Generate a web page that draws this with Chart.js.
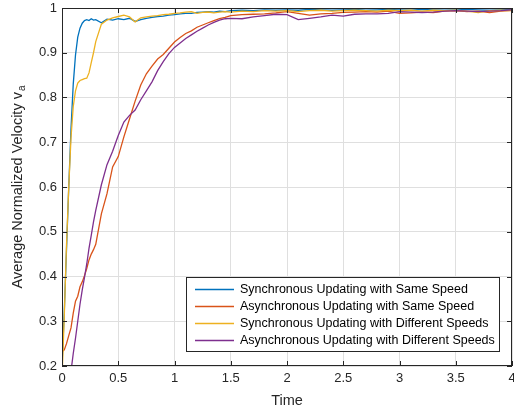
<!DOCTYPE html>
<html>
<head>
<meta charset="utf-8">
<script src="https://cdn.jsdelivr.net/npm/chart.js@4/dist/chart.umd.min.js"></script>
<style>
  html, body { margin: 0; padding: 0; background: #fff; }
  #wrap { width: 514px; height: 410px; position: relative; }
</style>
</head>
<body>
<div id="wrap"><canvas id="c" width="514" height="410"></canvas></div>
<script>
// ---- data ----
const times = [0,0.02,0.04,0.06,0.08,0.10,0.12,0.14,0.16,0.18,0.20,0.22,0.24,0.26,0.28,0.30,
  0.35,0.40,0.45,0.50,0.55,0.60,0.65,0.70,0.75,0.80,0.85,0.90,0.95,1.00,1.05,1.10,1.15,1.20,1.25,1.30,1.35,1.40,1.45,1.50,
  1.6,1.7,1.8,1.9,2.0,2.1,2.2,2.3,2.4,2.5,2.6,2.7,2.8,2.9,3.0,3.1,3.2,3.3,3.4,3.5,3.6,3.7,3.8,3.9,4.0];

const syncSame = [0.20,0.32,0.46,0.60,0.73,0.83,0.895,0.935,0.955,0.966,0.972,0.974,0.972,0.976,0.973,0.974,
  0.967,0.975,0.973,0.976,0.974,0.977,0.970,0.974,0.977,0.979,0.981,0.982,0.984,0.985,0.987,0.988,0.988,0.990,0.991,0.992,0.991,0.993,0.992,0.994,
  0.995,0.994,0.996,0.995,0.996,0.995,0.997,0.996,0.995,0.996,0.997,0.995,0.996,0.997,0.996,0.995,0.997,0.996,0.995,0.996,0.997,0.996,0.995,0.996,0.997];

const asyncSame = [0.232,0.236,0.250,0.268,0.285,0.318,0.345,0.356,0.377,0.388,0.402,0.418,0.437,0.450,0.460,0.472,
  0.540,0.585,0.645,0.668,0.712,0.752,0.792,0.828,0.853,0.870,0.886,0.896,0.910,0.924,0.934,0.943,0.949,0.957,0.962,0.967,0.972,0.976,0.979,0.983,
  0.985,0.986,0.987,0.989,0.992,0.988,0.984,0.987,0.988,0.990,0.991,0.992,0.991,0.993,0.988,0.989,0.991,0.990,0.993,0.994,0.992,0.993,0.990,0.993,0.995];

const syncDiff = [0.17,0.31,0.47,0.60,0.71,0.78,0.815,0.832,0.838,0.840,0.842,0.843,0.855,0.878,0.900,0.925,
  0.964,0.973,0.978,0.981,0.984,0.980,0.969,0.978,0.980,0.982,0.983,0.985,0.986,0.988,0.989,0.991,0.992,0.988,0.990,0.991,0.989,0.991,0.992,0.991,
  0.993,0.992,0.994,0.993,0.994,0.992,0.994,0.995,0.993,0.994,0.995,0.994,0.993,0.995,0.994,0.995,0.993,0.995,0.994,0.995,0.993,0.990,0.994,0.995,0.994];

const asyncDiff = [null,null,null,0.152,0.188,0.228,0.262,0.300,0.338,0.370,0.398,0.428,0.463,0.492,0.522,0.548,
  0.605,0.650,0.680,0.715,0.745,0.760,0.772,0.795,0.815,0.835,0.860,0.880,0.898,0.912,0.922,0.932,0.940,0.948,0.955,0.962,0.968,0.973,0.976,0.977,
  0.976,0.980,0.983,0.986,0.985,0.974,0.977,0.980,0.984,0.982,0.986,0.987,0.987,0.988,0.992,0.991,0.990,0.991,0.993,0.994,0.993,0.992,0.993,0.994,0.996];

const seriesNames = [
  'Synchronous Updating with Same Speed',
  'Asynchronous Updating with Same Speed',
  'Synchronous Updating with Different Speeds',
  'Asynchronous Updating with Different Speeds'
];
const seriesColors = ['#0072BD', '#D95319', '#EDB120', '#7E2F8E'];

const xTickValues = [0,0.5,1,1.5,2,2.5,3,3.5,4];
const xTickLabels = ['0','0.5','1','1.5','2','2.5','3','3.5','4'];
const yTickValues = [0.2,0.3,0.4,0.5,0.6,0.7,0.8,0.9,1];
const yTickLabels = ['0.2','0.3','0.4','0.5','0.6','0.7','0.8','0.9','1'];
const xTitle = 'Time';
const yTitle = 'Average Normalized Velocity v';
const yTitleSub = 'a';

// ---- chart ----
const FONT = '"Liberation Sans", Arial, Helvetica, sans-serif';
const AXIS_COLOR = '#262626';

const seriesValues = [syncSame, asyncSame, syncDiff, asyncDiff];
const datasets = seriesValues.map((vals, k) => ({
  label: seriesNames[k],
  data: times.map((t, i) => ({ x: t, y: vals[i] })),
  borderColor: seriesColors[k],
  backgroundColor: seriesColors[k],
  borderWidth: 1.3,
  pointRadius: 0,
  tension: 0,
  spanGaps: false,
  order: 3 - k
}));

const framePlugin = {
  id: 'frame',
  afterDraw(chart) {
    const ctx = chart.ctx;
    const a = chart.chartArea;
    const xs = chart.scales.x, ys = chart.scales.y;
    ctx.save();
    // box
    ctx.strokeStyle = AXIS_COLOR;
    ctx.lineWidth = 1;
    ctx.strokeRect(Math.round(a.left) + 0.5, Math.round(a.top) + 0.5,
                   Math.round(a.right - a.left) - 1, Math.round(a.bottom - a.top) - 1);
    // inward ticks
    const L = 5;
    ctx.beginPath();
    xTickValues.forEach(v => {
      const px = Math.round(xs.getPixelForValue(v)) + 0.5;
      ctx.moveTo(px, a.bottom); ctx.lineTo(px, a.bottom - L);
      ctx.moveTo(px, a.top); ctx.lineTo(px, a.top + L);
    });
    yTickValues.forEach(v => {
      const py = Math.round(ys.getPixelForValue(v)) + 0.5;
      ctx.moveTo(a.left, py); ctx.lineTo(a.left + L, py);
      ctx.moveTo(a.right, py); ctx.lineTo(a.right - L, py);
    });
    ctx.stroke();

    // axis titles
    ctx.fillStyle = AXIS_COLOR;
    ctx.font = '14.5px ' + FONT;
    ctx.textAlign = 'center';
    ctx.textBaseline = 'alphabetic';
    ctx.fillText(xTitle, (a.left + a.right) / 2, 405);

    const mainW = ctx.measureText(yTitle).width;
    ctx.font = '10px ' + FONT;
    const subW = ctx.measureText(yTitleSub).width;
    const total = mainW + 1 + subW;
    ctx.translate(22, (a.top + a.bottom) / 2);
    ctx.rotate(-Math.PI / 2);
    ctx.textAlign = 'left';
    ctx.font = '14.5px ' + FONT;
    ctx.fillText(yTitle, -total / 2, 0);
    ctx.font = '10px ' + FONT;
    ctx.fillText(yTitleSub, -total / 2 + mainW + 1, 3);
    ctx.setTransform(1, 0, 0, 1, 0, 0);

    // legend
    const bw = 313, bh = 74;
    const bx = Math.round(a.right) - 13 - bw;
    const by = Math.round(a.bottom) - 15 - bh;
    ctx.fillStyle = '#ffffff';
    ctx.fillRect(bx, by, bw, bh);
    ctx.strokeStyle = AXIS_COLOR;
    ctx.lineWidth = 1;
    ctx.strokeRect(bx + 0.5, by + 0.5, bw, bh);
    ctx.font = '12.5px ' + FONT;
    ctx.textAlign = 'left';
    ctx.textBaseline = 'middle';
    seriesNames.forEach((name, k) => {
      const cy = by + 12.5 + k * 17;
      ctx.strokeStyle = seriesColors[k];
      ctx.lineWidth = 1.3;
      ctx.beginPath();
      ctx.moveTo(bx + 9, cy); ctx.lineTo(bx + 48, cy);
      ctx.stroke();
      ctx.fillStyle = '#000000';
      ctx.fillText(name, bx + 54, cy + 0.5);
    });
    ctx.restore();
  }
};

new Chart(document.getElementById('c'), {
  type: 'line',
  data: { datasets },
  plugins: [framePlugin],
  options: {
    responsive: false,
    animation: false,
    events: [],
    layout: { padding: { top: 8, right: 2, left: 0, bottom: 0 } },
    plugins: { legend: { display: false }, tooltip: { enabled: false }, title: { display: false } },
    scales: {
      x: {
        type: 'linear', min: 0, max: 4,
        afterBuildTicks: s => { s.ticks = xTickValues.map(v => ({ value: v })); },
        afterFit: s => { s.height = 44; s.paddingLeft = 0; s.paddingRight = 0; },
        ticks: {
          callback: (v) => { const i = xTickValues.findIndex(t => Math.abs(t - v) < 1e-6); return i >= 0 ? xTickLabels[i] : ''; },
          color: AXIS_COLOR, font: { family: FONT, size: 13 }, padding: 5, maxRotation: 0, autoSkip: false
        },
        grid: { color: '#dfdfdf', lineWidth: 1, drawTicks: false },
        border: { display: false }
      },
      y: {
        type: 'linear', min: 0.2, max: 1,
        afterBuildTicks: s => { s.ticks = yTickValues.map(v => ({ value: v })); },
        afterFit: s => { s.width = 62; s.paddingTop = 0; s.paddingBottom = 0; },
        ticks: {
          callback: (v) => { const i = yTickValues.findIndex(t => Math.abs(t - v) < 1e-6); return i >= 0 ? yTickLabels[i] : ''; },
          color: AXIS_COLOR, font: { family: FONT, size: 13 }, padding: 5, autoSkip: false
        },
        grid: { color: '#dfdfdf', lineWidth: 1, drawTicks: false },
        border: { display: false }
      }
    }
  }
});
</script>
</body>
</html>
